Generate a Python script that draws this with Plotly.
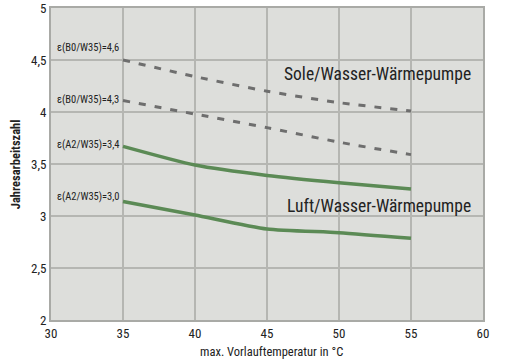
import plotly.graph_objects as go

temps = [35, 40, 45, 50, 55]
sole_46 = [4.50, 4.34, 4.20, 4.09, 4.01]
sole_43 = [4.11, 3.98, 3.85, 3.71, 3.59]
luft_34 = [3.67, 3.49, 3.39, 3.32, 3.26]
luft_30 = [3.14, 3.01, 2.875, 2.84, 2.785]

labels = ["ε(B0/W35)=4,6", "ε(B0/W35)=4,3", "ε(A2/W35)=3,4", "ε(A2/W35)=3,0"]
label_y = [4.625, 4.125, 3.69, 3.19]

x_ticks = [30, 35, 40, 45, 50, 55, 60]
y_ticks = [2, 2.5, 3, 3.5, 4, 4.5, 5]
y_tick_text = ["2", "2,5", "3", "3,5", "4", "4,5", "5"]

grey = "#6e6e6e"
green = "#5b8a55"
font = "Roboto Condensed, Liberation Sans Narrow, Roboto, sans-serif"

fig = go.Figure()
for ys in (sole_46, sole_43):
    fig.add_trace(go.Scatter(x=temps, y=ys, mode="lines",
                             line=dict(color=grey, width=3, dash="7px,9px", shape="spline", smoothing=0.6),
                             showlegend=False))
for ys in (luft_34, luft_30):
    fig.add_trace(go.Scatter(x=temps, y=ys, mode="lines",
                             line=dict(color=green, width=3.5, shape="spline", smoothing=0.6),
                             showlegend=False))

for t, y in zip(labels, label_y):
    fig.add_annotation(x=30.3, y=y, text=t, showarrow=False, xanchor="left", yanchor="middle",
                       font=dict(family=font, size=10.5, color="#222"))

fig.add_annotation(x=59.3, y=4.37, text="Sole/Wasser-Wärmepumpe", showarrow=False, xanchor="right", yanchor="middle",
                   font=dict(family=font, size=17.5, color="#222"))
fig.add_annotation(x=59.3, y=3.10, text="Luft/Wasser-Wärmepumpe", showarrow=False, xanchor="right", yanchor="middle",
                   font=dict(family=font, size=17.5, color="#222"))

fig.add_annotation(xref="paper", yref="paper", x=0.51, y=-0.10, text="max. Vorlauftemperatur in °C",
                   showarrow=False, xanchor="center", yanchor="middle", font=dict(family=font, size=12.5, color="#222"))
fig.add_annotation(xref="paper", yref="paper", x=-0.083, y=0.5, text="<b>Jahresarbeitszahl</b>", textangle=-90,
                   showarrow=False, xanchor="center", yanchor="middle", font=dict(family=font, size=12.5, color="#222"))

fig.update_layout(
    width=506, height=363,
    margin=dict(l=51, r=23, t=8, b=43),
    paper_bgcolor="white", plot_bgcolor="#dddedb",
    font=dict(family=font, color="#222"),
    xaxis=dict(range=[30, 60], tickvals=x_ticks, showgrid=True, gridcolor="#b5b6b2", gridwidth=1.5,
               showline=True, linecolor="#a9aaa6", linewidth=2, mirror=True, zeroline=False, automargin=False,
               tickfont=dict(family=font, size=13, color="#222"), ticks=""),
    yaxis=dict(range=[2, 5], tickvals=y_ticks, ticktext=y_tick_text, showgrid=True, gridcolor="#b5b6b2", gridwidth=1.5,
               showline=True, linecolor="#a9aaa6", linewidth=2, mirror=True, zeroline=False, automargin=False,
               tickfont=dict(family=font, size=13, color="#222"), ticks=""),
)
fig.update_xaxes(tickprefix="<b>", ticksuffix="</b>")
fig.update_yaxes(tickprefix="<b>", ticksuffix="</b>")

fig.write_html("out.html", config={"displayModeBar": False},
               post_script="document.body.style.margin='0';")
